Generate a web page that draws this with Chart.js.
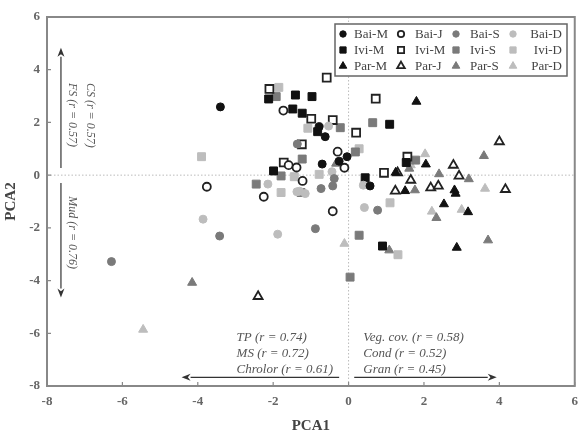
<!DOCTYPE html>
<html>
<head>
<meta charset="utf-8">
<script src="https://cdn.jsdelivr.net/npm/chart.js@4.4.1/dist/chart.umd.min.js"></script>
<style>
  html, body { margin: 0; padding: 0; background: #fff; }
  canvas { display: block; }
</style>
</head>
<body>
<canvas id="chart" width="586" height="435"></canvas>
<script>
// PCA scores per site / season as [PCA1, PCA2]
const seriesLabels = ['Bai-M', 'Bai-J', 'Bai-S', 'Bai-D', 'Ivi-M', 'Ivi-M', 'Ivi-S', 'Ivi-D', 'Par-M', 'Par-J', 'Par-S', 'Par-D'];

const baiM = [[-3.40, 2.59], [-0.78, 1.84], [-0.62, 1.46], [-0.04, 0.70], [-0.25, 0.53], [-0.70, 0.42], [0.57, -0.41]];
const baiJ = [[-1.73, 2.45], [-1.59, 0.38], [-1.38, 0.29], [-3.76, -0.44], [-2.25, -0.82], [-1.22, -0.22], [-0.29, 0.89], [-0.11, 0.28], [-0.42, -1.37]];
const baiS = [[-1.36, 1.18], [-3.42, -2.31], [-6.29, -3.28], [-0.38, -0.13], [-0.42, -0.41], [-0.73, -0.51], [0.77, -1.33], [-0.88, -2.03]];
const baiD = [[-2.14, -0.34], [-3.86, -1.67], [-1.88, -2.24], [-0.53, 1.86], [-0.44, 0.13], [0.39, -0.38], [0.42, -1.23], [-1.30, -0.61], [-1.15, -0.70], [-1.37, -0.63]];
const iviM = [[-2.12, 2.89], [-1.41, 3.04], [-1.48, 2.51], [-1.99, 0.16], [-0.97, 2.98], [-1.23, 2.35], [1.09, 1.93], [-0.82, 1.65], [1.53, 0.48], [0.44, -0.10], [0.90, -2.69]];
const iviJ = [[-2.10, 3.27], [-1.72, 0.48], [-0.58, 3.70], [0.72, 2.90], [-0.99, 2.14], [-0.42, 2.09], [0.20, 1.61], [-1.24, 1.17], [1.56, 0.70], [0.94, 0.09]];
const iviS = [[-1.92, 2.98], [-1.79, -0.03], [-2.45, -0.34], [0.64, 1.99], [-0.22, 1.80], [0.18, 0.88], [1.78, 0.57], [-1.23, 0.61], [-1.26, -0.66], [0.28, -2.28], [0.04, -3.87]];
const iviD = [[-1.85, 3.33], [-3.90, 0.70], [-1.79, -0.66], [-1.08, 1.78], [0.28, 1.00], [1.10, -1.05], [1.31, -3.02], [-0.78, 0.03], [-1.44, -0.06]];
const parM = [[1.80, 2.79], [2.05, 0.41], [1.25, 0.10], [1.50, -0.60], [2.81, -0.57], [2.84, -0.70], [2.53, -1.10], [3.17, -1.40], [2.87, -2.75]];
const parJ = [[-2.40, -4.60], [4.00, 1.27], [2.78, 0.38], [1.30, 0.09], [1.65, -0.19], [2.93, -0.03], [1.24, -0.60], [2.18, -0.48], [2.38, -0.41], [4.16, -0.54]];
const parS = [[-4.15, -4.08], [-0.33, 0.44], [3.59, 0.73], [1.61, 0.25], [2.40, 0.04], [3.19, -0.15], [1.76, -0.57], [2.33, -1.62], [1.08, -2.85], [3.70, -2.47]];
const parD = [[-5.45, -5.86], [2.03, 0.80], [1.65, 0.38], [3.62, -0.51], [2.21, -1.38], [3.00, -1.31], [-0.11, -2.60]];

const axisTicks = [-8, -6, -4, -2, 0, 2, 4, 6];

// loadings shown as arrows / text
const upNotes = ['CS (r = 0.57)', 'FS (r = 0.57)'];
const downNotes = ['Mud (r = 0.76)'];
const leftNotes = ['TP (r = 0.74)', 'MS (r = 0.72)', 'Chrolor (r = 0.61)'];
const rightNotes = ['Veg. cov. (r = 0.58)', 'Cond (r = 0.52)', 'Gran (r = 0.45)'];

// ---- styling ----
const allSeries = [baiM, baiJ, baiS, baiD, iviM, iviJ, iviS, iviD, parM, parJ, parS, parD];
const shapes = ['circle', 'rect', 'triangle'];
const radii = { circle: 4, rect: 5.6, triangle: 5.2 };
const legendRadii = { circle: 3.2, rect: 4.4, triangle: 4.4 };
const tones = [
  { fill: '#111', border: '#111', bw: 1 },
  { fill: '#fff', border: '#222', bw: 1.8 },
  { fill: '#7a7a7a', border: '#7a7a7a', bw: 1 },
  { fill: '#bdbdbd', border: '#bdbdbd', bw: 1 }
];
const serif = "'Liberation Serif', 'DejaVu Serif', serif";

const datasets = allSeries.map((pts, i) => {
  const shape = shapes[Math.floor(i / 4)];
  const tone = tones[i % 4];
  return {
    label: seriesLabels[i],
    data: pts.map(p => ({ x: p[0], y: p[1] })),
    pointStyle: shape,
    pointRadius: radii[shape],
    pointBackgroundColor: tone.fill,
    pointBorderColor: tone.border,
    pointBorderWidth: tone.bw,
    showLine: false
  };
});

function arrow(ctx, x1, y1, x2, y2) {
  const ang = Math.atan2(y2 - y1, x2 - x1);
  const hl = 9, hw = 3.5;
  const c = Math.cos(ang), s = Math.sin(ang);
  ctx.beginPath();
  ctx.moveTo(x1, y1);
  ctx.lineTo(x2 - hl * c, y2 - hl * s);
  ctx.stroke();
  ctx.beginPath();
  ctx.moveTo(x2, y2);
  ctx.lineTo(x2 - hl * c - hw * s, y2 - hl * s + hw * c);
  ctx.lineTo(x2 - hl * 0.7 * c, y2 - hl * 0.7 * s);
  ctx.lineTo(x2 - hl * c + hw * s, y2 - hl * s - hw * c);
  ctx.closePath();
  ctx.fill();
}

const decor = {
  id: 'decor',
  beforeDatasetsDraw(chart) {
    const { ctx, chartArea: a, scales: { x, y } } = chart;
    ctx.save();

    // dotted zero lines
    ctx.strokeStyle = '#bbb';
    ctx.lineWidth = 1;
    ctx.setLineDash([1.5, 2]);
    const x0 = x.getPixelForValue(0), y0 = y.getPixelForValue(0);
    ctx.beginPath();
    ctx.moveTo(x0, a.top); ctx.lineTo(x0, a.bottom);
    ctx.moveTo(a.left, y0); ctx.lineTo(a.right, y0);
    ctx.stroke();
    ctx.setLineDash([]);

    // loading arrows
    ctx.strokeStyle = '#333';
    ctx.fillStyle = '#333';
    ctx.lineWidth = 1.2;
    const ax = x.getPixelForValue(-7.63);
    arrow(ctx, ax, y.getPixelForValue(0.27), ax, y.getPixelForValue(4.83));
    arrow(ctx, ax, y.getPixelForValue(-0.30), ax, y.getPixelForValue(-4.64));
    const ay = y.getPixelForValue(-7.67);
    arrow(ctx, x.getPixelForValue(-0.25), ay, x.getPixelForValue(-4.43), ay);
    arrow(ctx, x.getPixelForValue(0.15), ay, x.getPixelForValue(3.93), ay);

    // loading text
    ctx.fillStyle = '#555';
    ctx.font = "italic 13px " + serif;
    ctx.textAlign = 'left';
    ctx.textBaseline = 'middle';
    const rows = [-6.15, -6.76, -7.39];
    leftNotes.forEach((t, i) => ctx.fillText(t, x.getPixelForValue(-2.97), y.getPixelForValue(rows[i])));
    rightNotes.forEach((t, i) => ctx.fillText(t, x.getPixelForValue(0.39), y.getPixelForValue(rows[i])));

    ctx.font = "italic 12px " + serif;
    const cols = [-6.86, -7.34];
    upNotes.forEach((t, i) => {
      ctx.save();
      ctx.translate(x.getPixelForValue(cols[i]), y.getPixelForValue(3.50));
      ctx.rotate(Math.PI / 2);
      ctx.fillText(t, 0, 0);
      ctx.restore();
    });
    downNotes.forEach((t, i) => {
      ctx.save();
      ctx.translate(x.getPixelForValue(cols[i + 1]), y.getPixelForValue(-0.80));
      ctx.rotate(Math.PI / 2);
      ctx.fillText(t, 0, 0);
      ctx.restore();
    });
    ctx.restore();
  },
  afterDatasetsDraw(chart) {
    const { ctx, chartArea: a, scales: { x, y } } = chart;
    ctx.save();

    // frame with inward ticks
    ctx.strokeStyle = '#888';
    ctx.lineWidth = 2;
    ctx.strokeRect(a.left, a.top, a.right - a.left, a.bottom - a.top);
    ctx.lineWidth = 1.2;
    ctx.beginPath();
    axisTicks.forEach(v => {
      const px = x.getPixelForValue(v);
      ctx.moveTo(px, a.bottom); ctx.lineTo(px, a.bottom - 4);
      const py = y.getPixelForValue(v);
      ctx.moveTo(a.left, py); ctx.lineTo(a.left + 4, py);
    });
    ctx.stroke();

    // legend box
    const bx = 335, by = 24, bw = 232, bh = 52;
    ctx.fillStyle = '#fff';
    ctx.fillRect(bx, by, bw, bh);
    ctx.strokeStyle = '#666';
    ctx.lineWidth = 1.5;
    ctx.strokeRect(bx, by, bw, bh);

    const markX = [343, 401, 456, 513];
    const textX = [354, 415, 470, 562];
    const rowY = [34, 50, 66];
    ctx.font = "13px " + serif;
    ctx.textBaseline = 'middle';
    chart.data.datasets.forEach((ds, i) => {
      const r = Math.floor(i / 4), c = i % 4;
      ctx.fillStyle = ds.pointBackgroundColor;
      ctx.strokeStyle = ds.pointBorderColor;
      ctx.lineWidth = ds.pointBorderWidth;
      Chart.helpers.drawPoint(ctx, {
        pointStyle: ds.pointStyle,
        radius: legendRadii[ds.pointStyle],
        rotation: 0,
        borderWidth: ds.pointBorderWidth
      }, markX[c], rowY[r]);
      ctx.fillStyle = '#444';
      ctx.textAlign = c === 3 ? 'right' : 'left';
      ctx.fillText(ds.label, textX[c], rowY[r] + 1);
    });
    ctx.restore();
  }
};

const tickFont = { family: serif, size: 13, weight: 'bold' };
const titleFont = { family: serif, size: 15, weight: 'bold' };

new Chart(document.getElementById('chart').getContext('2d'), {
  type: 'scatter',
  data: { datasets },
  options: {
    responsive: false,
    animation: false,
    layout: { padding: { top: 17, right: 9, left: 0, bottom: 0 } },
    plugins: { legend: { display: false }, tooltip: { enabled: false } },
    scales: {
      x: {
        type: 'linear',
        min: axisTicks[0],
        max: axisTicks[axisTicks.length - 1],
        grid: { display: false, drawTicks: false },
        border: { display: false },
        ticks: { stepSize: 2, font: tickFont, color: '#666', padding: 8 },
        title: { display: true, text: 'PCA1', font: titleFont, color: '#444', padding: { top: 0, bottom: 0 } },
        afterFit: s => { s.height = 49; }
      },
      y: {
        type: 'linear',
        min: axisTicks[0],
        max: axisTicks[axisTicks.length - 1],
        grid: { display: false, drawTicks: false },
        border: { display: false },
        ticks: { stepSize: 2, font: tickFont, color: '#666', padding: 7 },
        title: { display: true, text: 'PCA2', font: titleFont, color: '#444', padding: { top: 2, bottom: 0 } },
        afterFit: s => { s.width = 47; }
      }
    }
  },
  plugins: [decor]
});
</script>
</body>
</html>
